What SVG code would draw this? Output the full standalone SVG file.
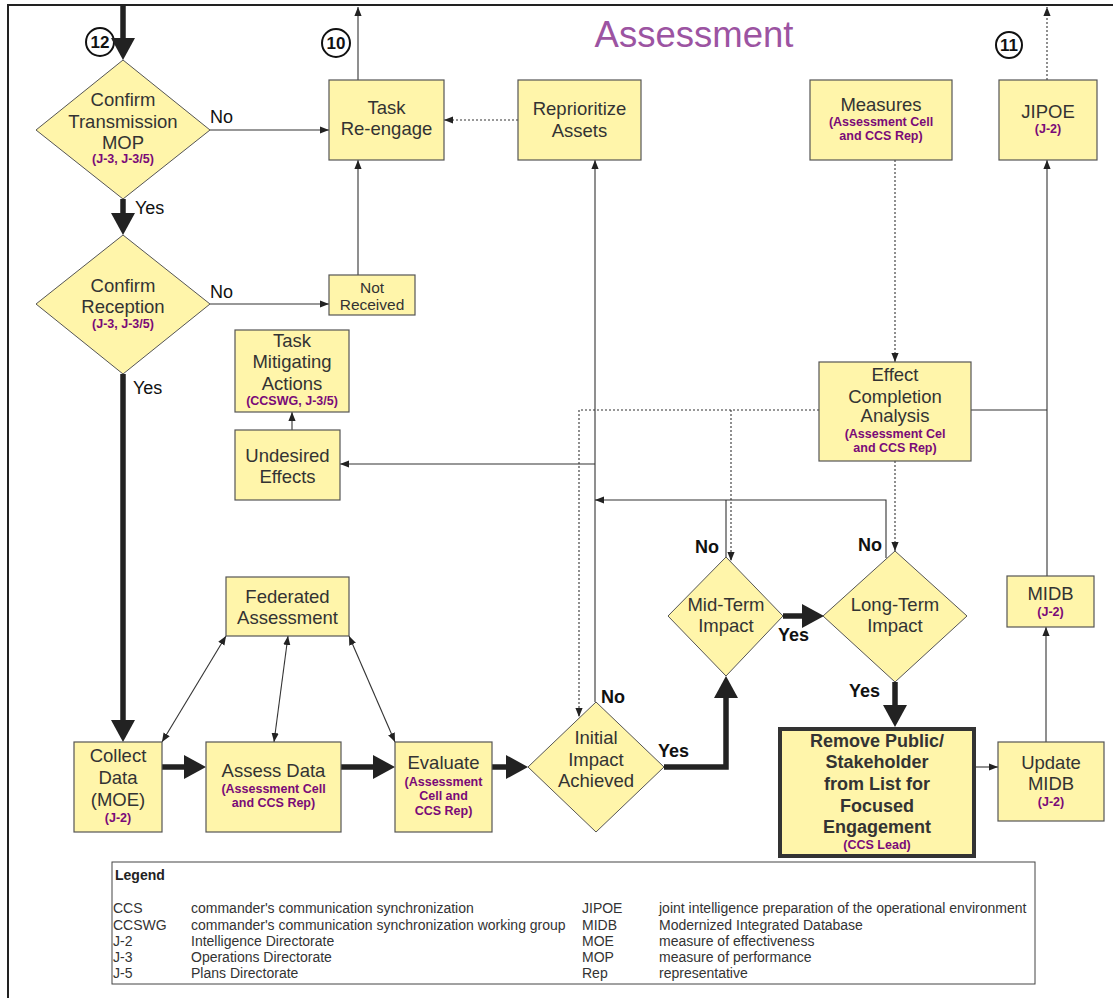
<svg xmlns="http://www.w3.org/2000/svg" width="1113" height="998" viewBox="0 0 1113 998">
  <style>
    text { font-family: "Liberation Sans", Arial, sans-serif; }
    .box { fill: #fff5aa; stroke: #555; stroke-width: 1.2; }
    .dia { fill: #fff5aa; stroke: #555; stroke-width: 1; }
    .t { font-size: 18.5px; fill: #333; text-anchor: middle; }
    .ts { font-size: 15.5px; fill: #333; text-anchor: middle; }
    .b { font-size: 18px; font-weight: bold; fill: #333; text-anchor: middle; }
    .p { font-size: 12.5px; font-weight: bold; fill: #7a0a78; text-anchor: middle; }
    .lab { font-size: 18px; fill: #111; }
    .labb { font-size: 18px; font-weight: bold; fill: #111; }
    .thin { fill: none; stroke: #333; stroke-width: 1.1; }
    .dot { fill: none; stroke: #333; stroke-width: 1.1; stroke-dasharray: 2 2; }
    .thick { fill: none; stroke: #222; stroke-width: 5.5; }
    .circ { fill: #fff; stroke: #111; stroke-width: 2; }
    .num { font-size: 17px; font-weight: bold; fill: #111; text-anchor: middle; }
    .lg { font-size: 14px; fill: #333; }
  </style>
  <defs>
    <marker id="a" viewBox="0 0 10 10" refX="10" refY="5" markerWidth="9" markerHeight="9" markerUnits="userSpaceOnUse" orient="auto-start-reverse">
      <path d="M0,1 L10,5 L0,9 Z" fill="#222"/>
    </marker>
    <marker id="A" viewBox="0 0 22 24" refX="12" refY="12" markerWidth="22" markerHeight="24" markerUnits="userSpaceOnUse" orient="auto">
      <path d="M0,0 L22,12 L0,24 Z" fill="#222"/>
    </marker>
  </defs>

  <!-- page frame -->
  <path d="M8,998 V5 H1113" fill="none" stroke="#222" stroke-width="2"/>

  <!-- title -->
  <text x="694" y="47" font-size="36.5" fill="#9c54a2" text-anchor="middle">Assessment</text>

  <!-- off-page reference markers -->
  <g id="ref12"><circle class="circ" cx="100" cy="42" r="14"/><text class="num" x="100" y="48">12</text></g>
  <g id="ref10"><circle class="circ" cx="336" cy="43" r="14"/><text class="num" x="336" y="49">10</text></g>
  <g id="ref11"><circle class="circ" cx="1009" cy="45" r="13"/><text class="num" x="1009" y="51">11</text></g>

  <!-- connectors -->
  <g id="connectors">
    <!-- main flow (heavy) -->
    <path class="thick" d="M123,5 V50" marker-end="url(#A)"/>
    <path class="thick" d="M123,199 V225" marker-end="url(#A)"/>
    <path class="thick" d="M123,374 V732" marker-end="url(#A)"/>
    <path class="thick" d="M162,767 H196" marker-end="url(#A)"/>
    <path class="thick" d="M341,767 H385" marker-end="url(#A)"/>
    <path class="thick" d="M492,767 H518" marker-end="url(#A)"/>
    <path class="thick" d="M664,767 H726 V686" marker-end="url(#A)"/>
    <path class="thick" d="M783,616 H814" marker-end="url(#A)"/>
    <path class="thick" d="M895,682 V717" marker-end="url(#A)"/>

    <!-- thin solid -->
    <path class="thin" d="M210,130 H329" marker-end="url(#a)"/>
    <path class="thin" d="M358,80 V7" marker-end="url(#a)"/>
    <path class="thin" d="M210,304 H329" marker-end="url(#a)"/>
    <path class="thin" d="M358,275 V160" marker-end="url(#a)"/>
    <path class="thin" d="M595,702 V160" marker-end="url(#a)"/>
    <path class="thin" d="M595,464 H340" marker-end="url(#a)"/>
    <path class="thin" d="M886,558 V500 H595" marker-end="url(#a)"/>
    <path class="thin" d="M726,557 V500"/>
    <path class="thin" d="M292,430 V412" marker-end="url(#a)"/>
    <path class="thin" d="M226,636 L162,742" marker-start="url(#a)" marker-end="url(#a)"/>
    <path class="thin" d="M288,636 L274,742" marker-start="url(#a)" marker-end="url(#a)"/>
    <path class="thin" d="M349,636 L395,742" marker-start="url(#a)" marker-end="url(#a)"/>
    <path class="thin" d="M971,410 H1047"/>
    <path class="thin" d="M1047,576 V160" marker-end="url(#a)"/>
    <path class="thin" d="M1046,742 V627" marker-end="url(#a)"/>
    <path class="thin" d="M976,767 H998" marker-end="url(#a)"/>

    <!-- thin dotted -->
    <path class="dot" d="M518,120 H444" marker-end="url(#a)"/>
    <path class="dot" d="M1047,80 V7" marker-end="url(#a)"/>
    <path class="dot" d="M895,160 V362" marker-end="url(#a)"/>
    <path class="dot" d="M895,461 V551" marker-end="url(#a)"/>
    <path class="dot" d="M819,410 H579 V717" marker-end="url(#a)"/>
    <path class="dot" d="M731,410 V561" marker-end="url(#a)"/>
  </g>

  <!-- branch labels -->
  <g id="labels">
    <text class="lab" x="210" y="123">No</text>
    <text class="lab" x="135" y="214">Yes</text>
    <text class="lab" x="210" y="298">No</text>
    <text class="lab" x="133" y="394">Yes</text>
    <text class="labb" x="601" y="703">No</text>
    <text class="labb" x="658" y="757">Yes</text>
    <text class="labb" x="695" y="553">No</text>
    <text class="labb" x="858" y="551">No</text>
    <text class="labb" x="778" y="641">Yes</text>
    <text class="labb" x="849" y="697">Yes</text>
  </g>

  <g id="confirm-transmission">
    <polygon class="dia" points="123,60 210,130 123,199 36,130"/>
    <text class="t" x="123" y="106">Confirm</text>
    <text class="t" x="123" y="128">Transmission</text>
    <text class="t" x="123" y="149">MOP</text>
    <text class="p" x="123" y="163">(J-3, J-3/5)</text>
  </g>

  <g id="confirm-reception">
    <polygon class="dia" points="123,235 210,304 123,374 36,304"/>
    <text class="t" x="123" y="292">Confirm</text>
    <text class="t" x="123" y="313">Reception</text>
    <text class="p" x="123" y="328">(J-3, J-3/5)</text>
  </g>

  <g id="task-reengage">
    <rect class="box" x="329" y="80" width="115" height="80"/>
    <text class="t" x="386.5" y="114">Task</text>
    <text class="t" x="386.5" y="135">Re-engage</text>
  </g>

  <g id="not-received">
    <rect class="box" x="329" y="275" width="86" height="40"/>
    <text class="ts" x="372" y="293">Not</text>
    <text class="ts" x="372" y="310">Received</text>
  </g>

  <g id="reprioritize">
    <rect class="box" x="518" y="80" width="123" height="80"/>
    <text class="t" x="579.5" y="115">Reprioritize</text>
    <text class="t" x="579.5" y="137">Assets</text>
  </g>

  <g id="measures">
    <rect class="box" x="810" y="80" width="142" height="80"/>
    <text class="t" x="881" y="111">Measures</text>
    <text class="p" x="881" y="126">(Assessment Cell</text>
    <text class="p" x="881" y="140">and CCS Rep)</text>
  </g>

  <g id="jipoe">
    <rect class="box" x="999" y="80" width="98" height="80"/>
    <text class="t" x="1048" y="118">JIPOE</text>
    <text class="p" x="1048" y="133">(J-2)</text>
  </g>

  <g id="task-mitigating">
    <rect class="box" x="235" y="330" width="114" height="82"/>
    <text class="t" x="292" y="347">Task</text>
    <text class="t" x="292" y="368">Mitigating</text>
    <text class="t" x="292" y="390">Actions</text>
    <text class="p" x="292" y="405">(CCSWG, J-3/5)</text>
  </g>

  <g id="undesired-effects">
    <rect class="box" x="235" y="430" width="105" height="70"/>
    <text class="t" x="287.5" y="462">Undesired</text>
    <text class="t" x="287.5" y="483">Effects</text>
  </g>

  <g id="effect-completion">
    <rect class="box" x="819" y="362" width="152" height="99"/>
    <text class="t" x="895" y="381">Effect</text>
    <text class="t" x="895" y="403">Completion</text>
    <text class="t" x="895" y="422">Analysis</text>
    <text class="p" x="895" y="438">(Assessment Cel</text>
    <text class="p" x="895" y="452">and CCS Rep)</text>
  </g>

  <g id="mid-term">
    <polygon class="dia" points="726,557 783,616 726,676 668,616"/>
    <text class="t" x="726" y="611">Mid-Term</text>
    <text class="t" x="726" y="632">Impact</text>
  </g>

  <g id="long-term">
    <polygon class="dia" points="895,551 967,616 895,682 823,616"/>
    <text class="t" x="895" y="611">Long-Term</text>
    <text class="t" x="895" y="632">Impact</text>
  </g>

  <g id="midb">
    <rect class="box" x="1007" y="576" width="87" height="51"/>
    <text class="t" x="1050.5" y="600">MIDB</text>
    <text class="p" x="1050.5" y="616">(J-2)</text>
  </g>

  <g id="federated">
    <rect class="box" x="226" y="577" width="123" height="59"/>
    <text class="t" x="287.5" y="603">Federated</text>
    <text class="t" x="287.5" y="624">Assessment</text>
  </g>

  <g id="collect-data">
    <rect class="box" x="74" y="742" width="88" height="90"/>
    <text class="t" x="118" y="762">Collect</text>
    <text class="t" x="118" y="784">Data</text>
    <text class="t" x="118" y="806">(MOE)</text>
    <text class="p" x="118" y="822">(J-2)</text>
  </g>

  <g id="assess-data">
    <rect class="box" x="206" y="742" width="135" height="90"/>
    <text class="t" x="273.5" y="777">Assess Data</text>
    <text class="p" x="273.5" y="793">(Assessment Cell</text>
    <text class="p" x="273.5" y="807">and CCS Rep)</text>
  </g>

  <g id="evaluate">
    <rect class="box" x="395" y="742" width="97" height="90"/>
    <text class="t" x="443.5" y="769">Evaluate</text>
    <text class="p" x="443.5" y="786">(Assessment</text>
    <text class="p" x="443.5" y="800">Cell and</text>
    <text class="p" x="443.5" y="815">CCS Rep)</text>
  </g>

  <g id="initial-impact">
    <polygon class="dia" points="596,702 664,767 596,832 528,767"/>
    <text class="t" x="596" y="744">Initial</text>
    <text class="t" x="596" y="766">Impact</text>
    <text class="t" x="596" y="787">Achieved</text>
  </g>

  <g id="remove-public">
    <rect x="780" y="729" width="194" height="127" fill="#fff5aa" stroke="#333" stroke-width="4"/>
    <text class="b" x="877" y="747">Remove Public/</text>
    <text class="b" x="877" y="768">Stakeholder</text>
    <text class="b" x="877" y="790">from List for</text>
    <text class="b" x="877" y="812">Focused</text>
    <text class="b" x="877" y="833">Engagement</text>
    <text class="p" x="877" y="849">(CCS Lead)</text>
  </g>

  <g id="update-midb">
    <rect class="box" x="998" y="742" width="106" height="79"/>
    <text class="t" x="1051" y="769">Update</text>
    <text class="t" x="1051" y="790">MIDB</text>
    <text class="p" x="1051" y="806">(J-2)</text>
  </g>

  <!-- legend -->
  <g id="legend">
    <rect x="112" y="862" width="923" height="122" fill="#fff" stroke="#444" stroke-width="1"/>
    <text x="115" y="880" font-size="14" font-weight="bold" fill="#222">Legend</text>
    <g class="lg">
      <text x="113" y="913">CCS</text>
      <text x="191" y="913">commander's communication synchronization</text>
      <text x="113" y="930">CCSWG</text>
      <text x="191" y="930">commander's communication synchronization working group</text>
      <text x="113" y="946">J-2</text>
      <text x="191" y="946">Intelligence Directorate</text>
      <text x="113" y="962">J-3</text>
      <text x="191" y="962">Operations Directorate</text>
      <text x="113" y="978">J-5</text>
      <text x="191" y="978">Plans Directorate</text>
      <text x="582" y="913">JIPOE</text>
      <text x="659" y="913">joint intelligence preparation of the operational environment</text>
      <text x="582" y="930">MIDB</text>
      <text x="659" y="930">Modernized Integrated Database</text>
      <text x="582" y="946">MOE</text>
      <text x="659" y="946">measure of effectiveness</text>
      <text x="582" y="962">MOP</text>
      <text x="659" y="962">measure of performance</text>
      <text x="582" y="978">Rep</text>
      <text x="659" y="978">representative</text>
    </g>
  </g>
</svg>
